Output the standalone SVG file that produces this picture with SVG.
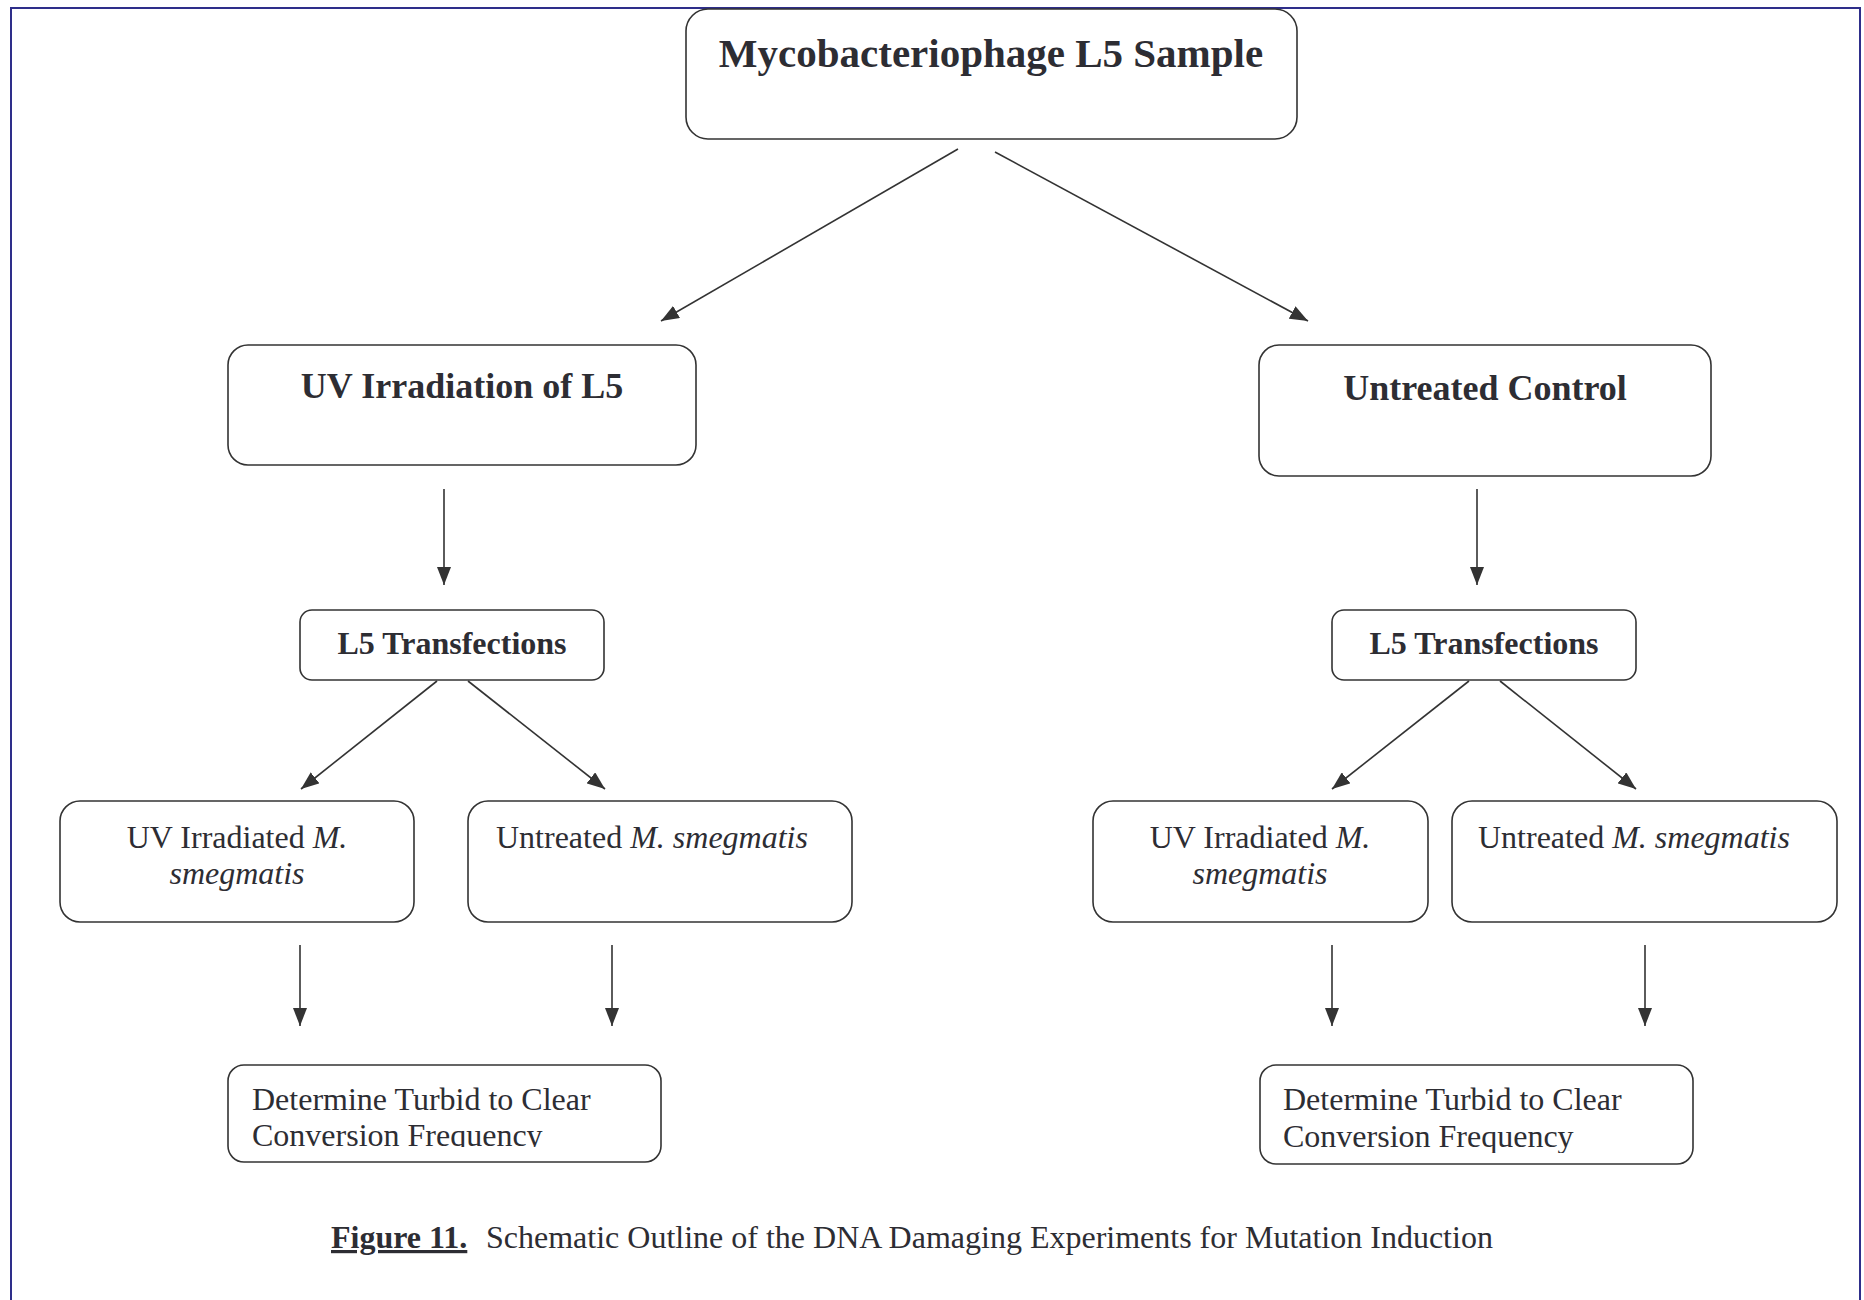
<svg xmlns="http://www.w3.org/2000/svg" width="1864" height="1300" viewBox="0 0 1864 1300">
<style>
.box{fill:#fff;stroke:#333;stroke-width:1.6}
.con{stroke:#333;stroke-width:1.6;fill:none;marker-end:url(#ah)}
text{font-family:"Liberation Serif","Times New Roman",serif;fill:#2d2d33}
.b{font-weight:bold}
.t41{font-size:41px}
.t36{font-size:36px}
.t32{font-size:32px}
.i{font-style:italic}
</style>
<defs>
<marker id="ah" markerUnits="userSpaceOnUse" markerWidth="18" markerHeight="14" refX="18" refY="7" orient="auto">
<path d="M0,0 L18,7 L0,14 z" fill="#333"/>
</marker>
<clipPath id="clipL"><rect x="228" y="1065" width="433" height="82"/></clipPath>
<clipPath id="clipR"><rect x="1260" y="1065" width="433" height="88"/></clipPath>
</defs>
<rect width="1864" height="1300" fill="#fff"/>
<rect x="11" y="8" width="1849" height="1310" fill="none" stroke="#2e2e8a" stroke-width="2"/>

<g id="connectors">
<line class="con" x1="958" y1="149" x2="661" y2="321"/>
<line class="con" x1="995" y1="152" x2="1308" y2="321"/>
<line class="con" x1="444" y1="489" x2="444" y2="585"/>
<line class="con" x1="1477" y1="489" x2="1477" y2="585"/>
<line class="con" x1="437" y1="681" x2="301" y2="789"/>
<line class="con" x1="468" y1="681" x2="605" y2="789"/>
<line class="con" x1="1469" y1="681" x2="1332" y2="789"/>
<line class="con" x1="1500" y1="681" x2="1636" y2="789"/>
<line class="con" x1="300" y1="945" x2="300" y2="1026"/>
<line class="con" x1="612" y1="945" x2="612" y2="1026"/>
<line class="con" x1="1332" y1="945" x2="1332" y2="1026"/>
<line class="con" x1="1645" y1="945" x2="1645" y2="1026"/>
</g>

<g id="node-sample">
<rect class="box" x="686" y="9" width="611" height="130" rx="22"/>
<text class="b t41" x="991" y="67" text-anchor="middle">Mycobacteriophage L5 Sample</text>
</g>
<g id="node-uv">
<rect class="box" x="228" y="345" width="468" height="120" rx="20"/>
<text class="b t36" x="462" y="398" text-anchor="middle">UV Irradiation of L5</text>
</g>
<g id="node-control">
<rect class="box" x="1259" y="345" width="452" height="131" rx="20"/>
<text class="b t36" x="1485" y="400" text-anchor="middle">Untreated Control</text>
</g>
<g id="node-transL">
<rect class="box" x="300" y="610" width="304" height="70" rx="12"/>
<text class="b t32" x="452" y="654" text-anchor="middle">L5 Transfections</text>
</g>
<g id="node-transR">
<rect class="box" x="1332" y="610" width="304" height="70" rx="12"/>
<text class="b t32" x="1484" y="654" text-anchor="middle">L5 Transfections</text>
</g>
<g id="node-uvms-L">
<rect class="box" x="60" y="801" width="354" height="121" rx="20"/>
<text class="t32" x="237" y="848" text-anchor="middle">UV Irradiated <tspan class="i">M.</tspan></text>
<text class="t32 i" x="237" y="884" text-anchor="middle">smegmatis</text>
</g>
<g id="node-unms-L">
<rect class="box" x="468" y="801" width="384" height="121" rx="20"/>
<text class="t32" x="496" y="848">Untreated <tspan class="i">M. smegmatis</tspan></text>
</g>
<g id="node-uvms-R">
<rect class="box" x="1093" y="801" width="335" height="121" rx="20"/>
<text class="t32" x="1260" y="848" text-anchor="middle">UV Irradiated <tspan class="i">M.</tspan></text>
<text class="t32 i" x="1260" y="884" text-anchor="middle">smegmatis</text>
</g>
<g id="node-unms-R">
<rect class="box" x="1452" y="801" width="385" height="121" rx="20"/>
<text class="t32" x="1478" y="848">Untreated <tspan class="i">M. smegmatis</tspan></text>
</g>
<g id="node-det-L">
<rect class="box" x="228" y="1065" width="433" height="97" rx="16"/>
<g clip-path="url(#clipL)">
<text class="t32" x="252" y="1110">Determine Turbid to Clear</text>
<text class="t32" x="252" y="1146">Conversion Frequency</text>
</g>
</g>
<g id="node-det-R">
<rect class="box" x="1260" y="1065" width="433" height="99" rx="16"/>
<g clip-path="url(#clipR)">
<text class="t32" x="1283" y="1110">Determine Turbid to Clear</text>
<text class="t32" x="1283" y="1147">Conversion Frequency</text>
</g>
</g>

<g id="caption">
<text class="b t32" x="331" y="1248" text-decoration="underline">Figure 11.</text>
<text class="t32" x="486" y="1248">Schematic Outline of the DNA Damaging Experiments for Mutation Induction</text>
</g>
</svg>
